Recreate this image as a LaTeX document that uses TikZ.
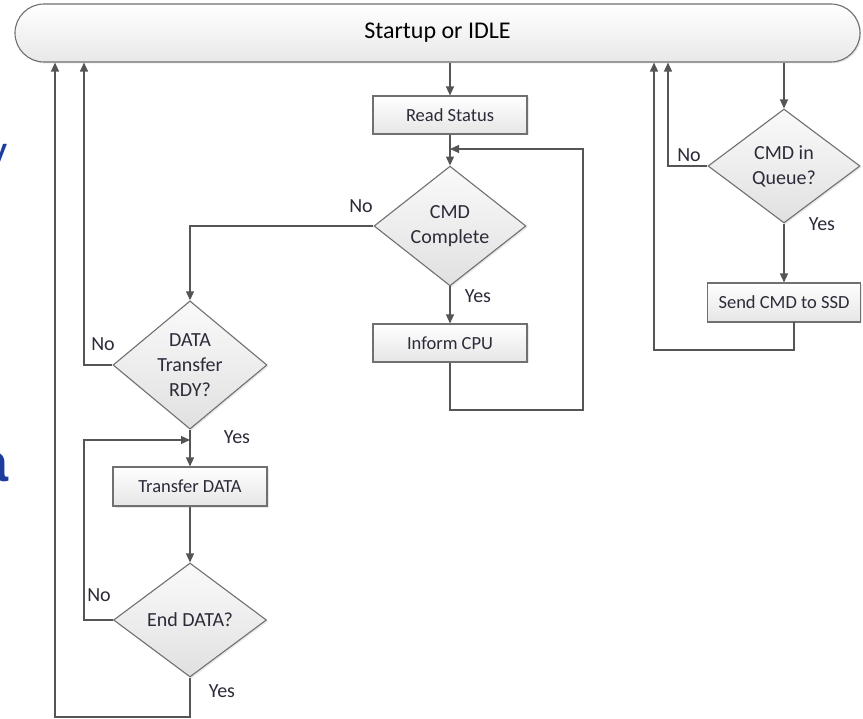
\documentclass[tikz,border=0pt]{standalone}
\usepackage{fontspec}
\setmainfont{Carlito}
\newfontfamily\arialfont{Liberation Sans}
\usetikzlibrary{shapes.geometric,arrows.meta,shadows}
\definecolor{linec}{HTML}{555555}
\definecolor{edgec}{HTML}{707070}
\definecolor{txtc}{HTML}{2B2B3A}
\definecolor{blueslide}{HTML}{1C3C9E}
\tikzset{
  conn/.style={draw=linec, line width=1.2pt},
  arr/.style={conn, -{Triangle[length=9pt,width=8pt]}},
  shade/.style={drop shadow={opacity=0.18, shadow xshift=1.5pt, shadow yshift=-1.5pt}},
  idlebar/.style={draw=edgec, line width=1.1pt, rounded corners=29pt, top color=white, bottom color=black!9,
    minimum width=845pt, minimum height=58pt, inner sep=0pt, text=black, font=\fontsize{24}{28}\selectfont, shade},
  procbox/.style={draw=edgec, line width=1.1pt, top color=white, bottom color=black!10, inner sep=0pt,
    minimum width=154pt, minimum height=38pt, text=txtc, font=\fontsize{18.5}{22}\selectfont, shade},
  decision/.style={diamond, draw=edgec, line width=1.1pt, top color=black!2, bottom color=black!12, inner sep=0pt,
    minimum width=152pt, minimum height=114pt, align=center, text=txtc, font=\fontsize{20}{25}\selectfont, shade},
  lbl/.style={inner sep=0pt, text=txtc, font=\fontsize{20}{24}\selectfont},
}
\begin{document}
\begin{tikzpicture}[x=1pt,y=-1pt]
\fill[white] (0,0) rectangle (863,719);
\useasboundingbox (0,0) rectangle (863,719);

% slide fragments at the left edge
\node[inner sep=0pt, anchor=base east, text=blueslide, font=\arialfont\fontsize{42}{42}\selectfont] (fragy) at (8,167) {y};
\node[inner sep=0pt, anchor=base east, text=blueslide, font=\arialfont\bfseries\fontsize{54}{54}\selectfont] (fraga) at (9,482) {a};

% nodes
\node[idlebar] (idle) at (437.5,33) {Startup or IDLE};
\node[procbox] (rs) at (450,115) {Read Status};
\node[decision] (cmdc) at (450,226) {CMD\\Complete};
\node[procbox] (inform) at (450,343) {Inform CPU};
\node[decision, minimum width=154pt] (dtr) at (190,365) {DATA\\Transfer\\RDY?};
\node[procbox, minimum height=39pt] (tdata) at (190,486.5) {Transfer DATA};
\node[decision, minimum width=153pt] (endd) at (190,620) {End DATA?};
\node[decision] (cmdq) at (784,166) {CMD in\\Queue?};
\node[procbox, minimum width=153pt, minimum height=39pt] (send) at (784,302.5) {Send CMD to SSD};

% helper coordinates
\coordinate (infA) at (450,410);
\coordinate (infB) at (583,410);
\coordinate (infC) at (583,149);
\coordinate (infD) at (450,149);
\coordinate (nodtr) at (84,365);
\coordinate (endA) at (84,620);
\coordinate (endB) at (84,440);
\coordinate (endC) at (190,440);
\coordinate (botA) at (190,717);
\coordinate (botB) at (55,717);
\coordinate (qA) at (668,166);
\coordinate (sA) at (794,322);
\coordinate (sB) at (794,350);
\coordinate (sC) at (654,350);

% connectors
\draw[arr] (idle.south -| rs.north) -- (rs.north);
\draw[arr] (rs.south) -- (cmdc.north);
\draw[arr] (cmdc.south) -- (inform.north);
\draw[arr] (inform.south) -- (infA) -- (infB) -- (infC) -- (infD);
\draw[arr] (cmdc.west) -| (dtr.north);
\draw[arr] (dtr.west) -- (nodtr) -- (nodtr |- idle.south);
\draw[arr] (dtr.south) -- (tdata.north);
\draw[arr] (tdata.south) -- (endd.north);
\draw[arr] (endd.west) -- (endA) -- (endB) -- (endC);
\draw[arr] (endd.south) -- (botA) -- (botB) -- (botB |- idle.south);
\draw[arr] (idle.south -| cmdq.north) -- (cmdq.north);
\draw[arr] (cmdq.west) -- (qA) -- (qA |- idle.south);
\draw[arr] (cmdq.south) -- (send.north);
\draw[arr] (sA) -- (sB) -- (sC) -- (sC |- idle.south);

% labels
\node[lbl] (l1) at (361,206) {No};
\node[lbl] (l2) at (478,296) {Yes};
\node[lbl] (l3) at (103,344) {No};
\node[lbl] (l4) at (237,437) {Yes};
\node[lbl] (l5) at (99,595) {No};
\node[lbl] (l6) at (222,691) {Yes};
\node[lbl] (l7) at (689,155) {No};
\node[lbl] (l8) at (822,224) {Yes};
\end{tikzpicture}
\end{document}
